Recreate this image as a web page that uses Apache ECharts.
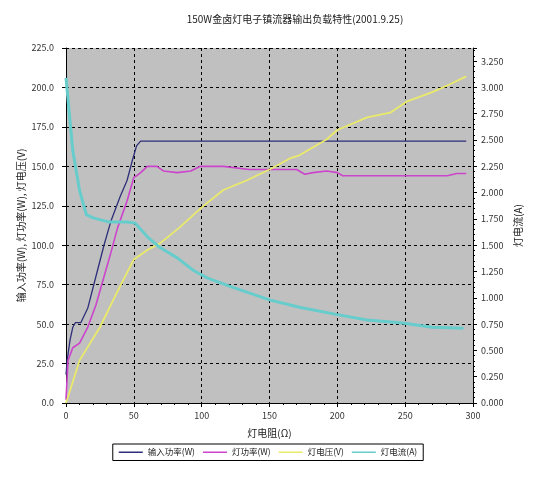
<!DOCTYPE html>
<html><head><meta charset="utf-8">
<script src="https://cdn.jsdelivr.net/npm/echarts@6/dist/echarts.min.js"></script>
<style>html,body{margin:0;padding:0;background:#fff}#c{width:536px;height:482px}</style>
</head><body><div id="c"></div>
<script>
var titleText = '150W金卤灯电子镇流器输出负载特性(2001.9.25)';
var seriesNames = ['输入功率(W)', '灯功率(W)', '灯电压(V)', '灯电流(A)'];

var inputPowerX = [0, 1, 3, 5, 7, 11, 16, 22, 28, 33, 40, 45, 49, 52, 55, 100, 150, 200, 250, 295];
var inputPowerY = [18, 28, 40, 48, 51, 51, 60, 80, 100, 115, 131, 141, 154, 163, 166, 166, 166, 166, 166, 166];

var lampPowerX = [0, 1.5, 5, 10, 16, 22, 28, 33, 38, 45, 50, 52, 55, 60, 67, 72, 82, 92, 99, 116, 135, 150, 170, 176, 182, 192, 200, 204, 230, 260, 281, 288, 295];
var lampPowerY = [2, 27, 35, 38, 48, 62, 80, 95, 111, 128, 143, 144, 146, 150, 150, 147, 146, 147, 150, 150, 148, 148, 148, 145, 146, 147, 146, 144, 144, 144, 144, 145.5, 145.5];

var lampVoltX = [0, 1.5, 10, 25, 37.5, 50, 60, 69, 84, 100, 116, 133, 150, 165, 172, 192, 200, 222, 239, 251, 270, 283, 295];
var lampVoltY = [0, 4, 27, 48, 70, 91, 97, 101, 111.5, 124, 135, 141, 148, 155, 157, 167, 173, 181, 184, 191, 197, 202, 207];

var lampCurrX = [0, 5, 10, 15, 20, 32, 45, 51, 60, 69, 82, 94, 104, 123, 150, 172, 200, 222, 248, 270, 293];
var lampCurrY = [3.09, 2.40, 2.02, 1.79, 1.76, 1.72, 1.72, 1.71, 1.58, 1.48, 1.38, 1.26, 1.19, 1.10, 0.98, 0.91, 0.84, 0.79, 0.76, 0.72, 0.71];

function pairs(xs, ys) { return xs.map(function (x, i) { return [x, ys[i]]; }); }

var font = '"Noto Sans CJK SC", "DejaVu Sans", sans-serif';
var chart = echarts.init(document.getElementById('c'), null, {renderer: 'canvas'});
chart.setOption({
  animation: false,
  backgroundColor: '#ffffff',
  title: {text: titleText, left: 290, textAlign: 'center', top: 9,
    textStyle: {fontSize: 10, fontWeight: 'normal', color: '#222', fontFamily: font}},
  grid: {left: 66, right: 63, top: 48, bottom: 79, show: true, backgroundColor: '#c0c0c0', borderWidth: 0},
  legend: {
    data: seriesNames, left: 'center', top: 444,
    borderColor: '#000', borderWidth: 1, padding: [4, 6, 4, 6],
    itemGap: 8, itemWidth: 24, itemHeight: 1.5, icon: 'rect',
    textStyle: {fontSize: 8.5, color: '#222', fontFamily: font}
  },
  xAxis: {
    type: 'value', min: 0, max: 300, interval: 50,
    name: '灯电阻(Ω)', nameLocation: 'middle', nameGap: 25, nameMoveOverlap: false,
    nameTextStyle: {fontSize: 10, color: '#222', fontFamily: font},
    axisLine: {lineStyle: {color: '#000', width: 1}},
    axisTick: {length: 4, lineStyle: {color: '#000'}},
    minorTick: {show: true, splitNumber: 5, length: 2, lineStyle: {color: '#000'}},
    axisLabel: {fontSize: 9, color: '#333', margin: 8, fontFamily: font},
    splitLine: {show: true, lineStyle: {color: '#000', type: [3, 3], width: 1}}
  },
  yAxis: [{
    type: 'value', min: 0, max: 225, interval: 25, position: 'left',
    name: '输入功率(W), 灯功率(W), 灯电压(V)', nameLocation: 'middle', nameGap: 40, nameRotate: 90,
    nameMoveOverlap: false,
    nameTextStyle: {fontSize: 10, color: '#222', fontFamily: font},
    axisLine: {show: true, lineStyle: {color: '#000', width: 1}},
    axisTick: {show: true, length: 4, lineStyle: {color: '#000'}},
    axisLabel: {fontSize: 9, color: '#333', margin: 12, fontFamily: font,
      formatter: function (v) { return v.toFixed(1); }},
    splitLine: {show: true, lineStyle: {color: '#000', type: [3, 3], width: 1}}
  }, {
    type: 'value', min: 0, max: 3.375, interval: 0.25, position: 'right',
    name: '灯电流(A)', nameLocation: 'middle', nameGap: 40, nameRotate: 90,
    nameMoveOverlap: false,
    nameTextStyle: {fontSize: 10, color: '#222', fontFamily: font},
    axisLine: {show: true, lineStyle: {color: '#000', width: 1}},
    axisTick: {show: true, length: 4, lineStyle: {color: '#000'}},
    minorTick: {show: true, splitNumber: 5, length: 2, lineStyle: {color: '#000'}},
    axisLabel: {fontSize: 9, color: '#333', margin: 8, fontFamily: font,
      formatter: function (v) { return v > 3.3 ? '' : v.toFixed(3); }},
    splitLine: {show: false}
  }],
  series: [
    {name: seriesNames[0], type: 'line', yAxisIndex: 0, showSymbol: false, symbol: 'none',
      data: pairs(inputPowerX, inputPowerY), lineStyle: {color: '#2e2e7a', width: 1.3}, itemStyle: {color: '#2e2e7a'}},
    {name: seriesNames[1], type: 'line', yAxisIndex: 0, showSymbol: false, symbol: 'none',
      data: pairs(lampPowerX, lampPowerY), lineStyle: {color: '#cc44cc', width: 1.6}, itemStyle: {color: '#cc44cc'}},
    {name: seriesNames[2], type: 'line', yAxisIndex: 0, showSymbol: false, symbol: 'none',
      data: pairs(lampVoltX, lampVoltY), lineStyle: {color: '#eaea6a', width: 1.8}, itemStyle: {color: '#eaea6a'}},
    {name: seriesNames[3], type: 'line', yAxisIndex: 1, showSymbol: false, symbol: 'none',
      data: pairs(lampCurrX, lampCurrY), lineStyle: {color: '#66cccc', width: 3}, itemStyle: {color: '#66cccc'}}
  ]
});
</script>
</body></html>
